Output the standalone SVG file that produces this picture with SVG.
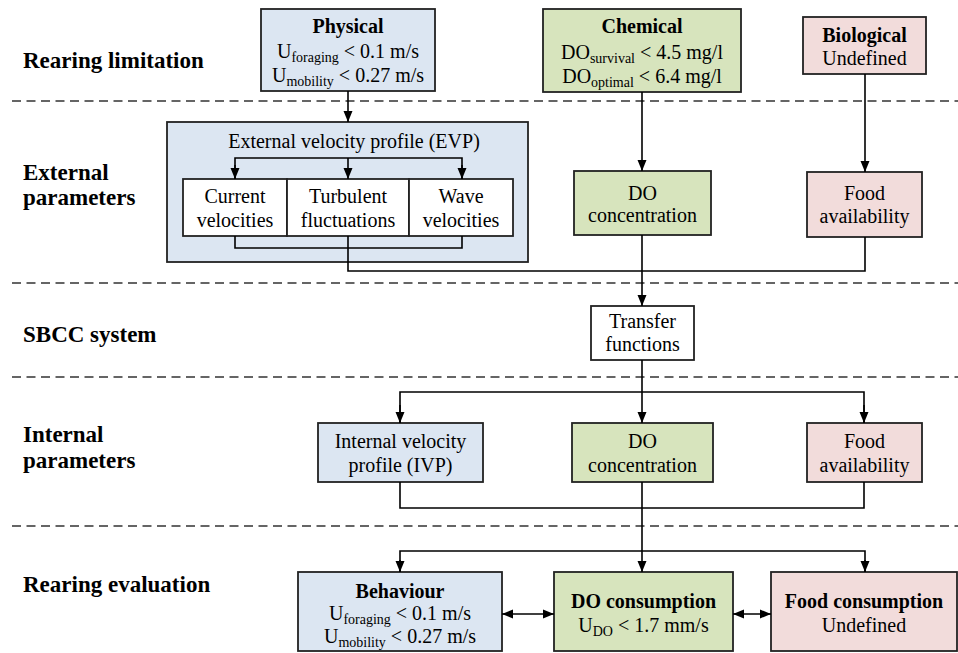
<svg xmlns="http://www.w3.org/2000/svg" width="958" height="653" viewBox="0 0 958 653">
<style>
text{font-family:'Liberation Serif','Times New Roman','DejaVu Serif',serif;font-size:20px;fill:#000}
.lab{font-size:23px;font-weight:bold}
.b{font-weight:bold}
.c{text-anchor:middle}
.sub{font-size:14px}
.box{stroke:#222;stroke-width:1.8}
.blue{fill:#dce6f2}
.green{fill:#d7e4bd}
.pink{fill:#f2dcdb}
.white{fill:#fff}
.dash{stroke:#333;stroke-width:1.6;stroke-dasharray:9 5.5;fill:none}
.ln{stroke:#000;stroke-width:1.6;fill:none}
.arr{marker-end:url(#ah)}
.dbl{marker-start:url(#ahs);marker-end:url(#ah)}
</style>
<defs>
<marker id="ah" markerUnits="userSpaceOnUse" markerWidth="12" markerHeight="12" viewBox="0 0 12 12" refX="11" refY="6" orient="auto">
<path d="M0,1.5 L11,6 L0,10.5 Z" fill="#000"/>
</marker>
<marker id="ahs" markerUnits="userSpaceOnUse" markerWidth="12" markerHeight="12" viewBox="0 0 12 12" refX="1" refY="6" orient="auto">
<path d="M12,1.5 L1,6 L12,10.5 Z" fill="#000"/>
</marker>
</defs>
<rect width="958" height="653" fill="#fff"/>
<g font-family="'Liberation Serif', 'Times New Roman', 'DejaVu Serif', serif">

<g id="section-labels">
<text class="lab" x="23" y="68">Rearing limitation</text>
<text class="lab" x="23" y="180">External</text>
<text class="lab" x="23" y="205">parameters</text>
<text class="lab" x="23" y="342">SBCC system</text>
<text class="lab" x="23" y="442">Internal</text>
<text class="lab" x="23" y="468">parameters</text>
<text class="lab" x="23" y="592">Rearing evaluation</text>
</g>

<g id="dividers">
<line class="dash" x1="12" y1="101" x2="958" y2="101"/>
<line class="dash" x1="12" y1="283" x2="958" y2="283"/>
<line class="dash" x1="12" y1="377" x2="958" y2="377"/>
<line class="dash" x1="12" y1="526" x2="958" y2="526"/>
</g>

<g id="physical">
<rect class="box blue" x="261" y="9" width="174" height="82"/>
<text class="c b" x="348" y="33">Physical</text>
<text class="c" x="348" y="58">U<tspan class="sub" dy="4">foraging</tspan><tspan dy="-4"> &lt; 0.1 m/s</tspan></text>
<text class="c" x="348" y="82">U<tspan class="sub" dy="4">mobility</tspan><tspan dy="-4"> &lt; 0.27 m/s</tspan></text>
</g>

<g id="chemical">
<rect class="box green" x="543" y="9" width="198" height="83"/>
<text class="c b" x="642" y="33">Chemical</text>
<text class="c" x="642" y="59">DO<tspan class="sub" dy="4">survival</tspan><tspan dy="-4"> &lt; 4.5 mg/l</tspan></text>
<text class="c" x="642" y="83">DO<tspan class="sub" dy="4">optimal</tspan><tspan dy="-4"> &lt; 6.4 mg/l</tspan></text>
</g>

<g id="biological">
<rect class="box pink" x="803" y="17" width="123" height="57"/>
<text class="c b" x="864.5" y="42">Biological</text>
<text class="c" x="864.5" y="65">Undefined</text>
</g>

<g id="evp">
<rect class="box blue" x="167" y="122" width="361" height="140"/>
<text class="c" x="354" y="148">External velocity profile (EVP)</text>
</g>
<g id="current-velocities">
<rect class="box white" x="183" y="179" width="104" height="57"/>
<text class="c" x="235" y="203">Current</text>
<text class="c" x="235" y="227">velocities</text>
</g>
<g id="turbulent-fluctuations">
<rect class="box white" x="287" y="179" width="122" height="57"/>
<text class="c" x="348" y="203">Turbulent</text>
<text class="c" x="348" y="227">fluctuations</text>
</g>
<g id="wave-velocities">
<rect class="box white" x="409" y="179" width="104" height="57"/>
<text class="c" x="461" y="203">Wave</text>
<text class="c" x="461" y="227">velocities</text>
</g>

<g id="do-concentration-ext">
<rect class="box green" x="574" y="171" width="137" height="64"/>
<text class="c" x="642.5" y="200">DO</text>
<text class="c" x="642.5" y="222">concentration</text>
</g>

<g id="food-availability-ext">
<rect class="box pink" x="807" y="172" width="115" height="65"/>
<text class="c" x="864.5" y="200">Food</text>
<text class="c" x="864.5" y="223">availability</text>
</g>

<g id="transfer-functions">
<rect class="box white" x="591" y="306" width="103" height="54"/>
<text class="c" x="642.5" y="328">Transfer</text>
<text class="c" x="642.5" y="351">functions</text>
</g>

<g id="ivp">
<rect class="box blue" x="318" y="423" width="165" height="59"/>
<text class="c" x="400.5" y="448">Internal velocity</text>
<text class="c" x="400.5" y="472">profile (IVP)</text>
</g>

<g id="do-concentration-int">
<rect class="box green" x="572" y="423" width="141" height="59"/>
<text class="c" x="642.5" y="448">DO</text>
<text class="c" x="642.5" y="472">concentration</text>
</g>

<g id="food-availability-int">
<rect class="box pink" x="807" y="423" width="115" height="59"/>
<text class="c" x="864.5" y="448">Food</text>
<text class="c" x="864.5" y="472">availability</text>
</g>

<g id="behaviour">
<rect class="box blue" x="298" y="572" width="204" height="79"/>
<text class="c b" x="400" y="598">Behaviour</text>
<text class="c" x="400" y="620">U<tspan class="sub" dy="4">foraging</tspan><tspan dy="-4"> &lt; 0.1 m/s</tspan></text>
<text class="c" x="400" y="643">U<tspan class="sub" dy="4">mobility</tspan><tspan dy="-4"> &lt; 0.27 m/s</tspan></text>
</g>

<g id="do-consumption">
<rect class="box green" x="554" y="572" width="179" height="79"/>
<text class="c b" x="643.5" y="608">DO consumption</text>
<text class="c" x="643.5" y="632">U<tspan class="sub" dy="4">DO</tspan><tspan dy="-4"> &lt; 1.7 mm/s</tspan></text>
</g>

<g id="food-consumption">
<rect class="box pink" x="771" y="572" width="186" height="79"/>
<text class="c b" x="864" y="608">Food consumption</text>
<text class="c" x="864" y="632">Undefined</text>
</g>

<g id="connectors">
<line class="ln arr" x1="348" y1="91" x2="348" y2="122"/>
<polyline class="ln" points="235,179 235,158 462,158 462,179"/>
<line class="ln arr" x1="235" y1="165" x2="235" y2="179"/>
<line class="ln arr" x1="348" y1="158" x2="348" y2="179"/>
<line class="ln arr" x1="462" y1="165" x2="462" y2="179"/>
<polyline class="ln" points="235,236 235,248 462,248 462,236"/>
<polyline class="ln" points="348,236 348,271 865,271 865,237"/>
<line class="ln arr" x1="642" y1="92" x2="642" y2="171"/>
<line class="ln arr" x1="865" y1="74" x2="865" y2="172"/>
<line class="ln arr" x1="642" y1="235" x2="642" y2="306"/>
<line class="ln arr" x1="642" y1="360" x2="642" y2="423"/>
<polyline class="ln" points="400,423 400,392 864,392 864,423"/>
<line class="ln arr" x1="400" y1="405" x2="400" y2="423"/>
<line class="ln arr" x1="864" y1="405" x2="864" y2="423"/>
<polyline class="ln" points="400,482 400,508 864,508 864,482"/>
<line class="ln arr" x1="642" y1="482" x2="642" y2="572"/>
<polyline class="ln" points="400,572 400,551 865,551 865,572"/>
<line class="ln arr" x1="400" y1="560" x2="400" y2="572"/>
<line class="ln arr" x1="865" y1="560" x2="865" y2="572"/>
<line class="ln dbl" x1="502" y1="614" x2="554" y2="614"/>
<line class="ln dbl" x1="733" y1="614" x2="771" y2="614"/>
</g>
</g>
</svg>
